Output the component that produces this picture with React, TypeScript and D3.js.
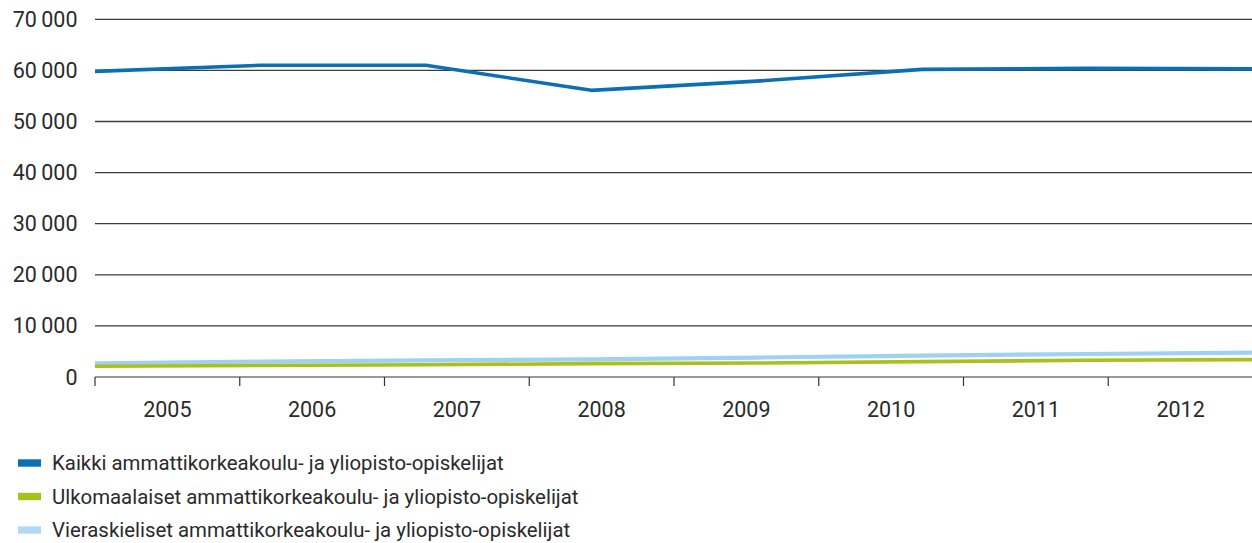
import React from "react";
import * as d3 from "d3";

const years = ["2005", "2006", "2007", "2008", "2009", "2010", "2011", "2012"];
const yTicks = [0, 10000, 20000, 30000, 40000, 50000, 60000, 70000];

const kaikki = [59800, 61000, 61000, 56100, 57900, 60200, 60400, 60300];
const ulkomaalaiset = [2090, 2250, 2400, 2620, 2740, 3010, 3270, 3400];
const vieraskieliset = [2680, 3000, 3250, 3450, 3800, 4200, 4500, 4780];

const seriesNames = [
  "Kaikki ammattikorkeakoulu- ja yliopisto-opiskelijat",
  "Ulkomaalaiset ammattikorkeakoulu- ja yliopisto-opiskelijat",
  "Vieraskieliset ammattikorkeakoulu- ja yliopisto-opiskelijat",
];

const W = 1252;
const H = 543;
const FONT = "Roboto, 'Noto Sans', sans-serif";

export default function App() {
  const x0 = 95;
  const x1 = 1253;
  const xBand = d3.scaleBand<string>().domain(years).range([x0, x1]).padding(0);
  const xPoint = d3.scalePoint<string>().domain(years).range([x0, x1]).padding(0);
  const y = d3.scaleLinear().domain([0, 70000]).range([377, 19.3]);

  const fmt = (v: number) => d3.format(",")(v).replace(/,/g, "\u2009");

  const line = d3
    .line<number>()
    .x((_, i) => xPoint(years[i]) as number)
    .y((d) => y(d));

  const series = [
    { name: seriesNames[2], data: vieraskieliset, color: "#9fd2f1", width: 4.2, swatch: "#b3daf5" },
    { name: seriesNames[1], data: ulkomaalaiset, color: "#a9c11e", width: 3.6, swatch: "#a9c11e" },
    { name: seriesNames[0], data: kaikki, color: "#0b6fb6", width: 3.6, swatch: "#0b6fb6" },
  ];
  const legendOrder = [series[2], series[1], series[0]];

  const tickXs = [x0, ...years.slice(1).map((yr) => xBand(yr) as number)];

  return (
    <svg
      width={W}
      height={H}
      style={{ position: "absolute", left: 0, top: 0, background: "#fff" }}
      fontFamily={FONT}
    >
      {yTicks.slice(1).map((t) => (
        <line key={t} x1={x0} x2={W} y1={y(t)} y2={y(t)} stroke="#3c3c3c" strokeWidth={1.3} />
      ))}
      {yTicks.map((t) => (
        <text
          key={"l" + t}
          x={77.5}
          y={y(t)}
          textAnchor="end"
          dominantBaseline="central"
          fontSize={21.5}
          fill="#2a2a2a"
        >
          {fmt(t)}
        </text>
      ))}
      <line x1={x0} x2={W} y1={y(0)} y2={y(0)} stroke="#777" strokeWidth={1.6} />
      {tickXs.map((tx, i) => (
        <line key={"t" + i} x1={tx} x2={tx} y1={y(0)} y2={y(0) + 9} stroke="#333" strokeWidth={1.2} />
      ))}
      {years.map((yr) => (
        <text
          key={"x" + yr}
          x={(xBand(yr) as number) + xBand.bandwidth() / 2}
          y={416.8}
          textAnchor="middle"
          fontSize={21.5}
          fill="#2a2a2a"
        >
          {yr}
        </text>
      ))}
      {series.map((s) => (
        <path
          key={s.name}
          d={line(s.data) as string}
          fill="none"
          stroke={s.color}
          strokeWidth={s.width}
          strokeLinejoin="round"
        />
      ))}
      {legendOrder.map((s, i) => {
        const cy = 463 + i * 33.5;
        return (
          <g key={"lg" + i}>
            <rect x={18} y={cy - 3.7} width={23} height={7.4} fill={s.swatch} />
            <text x={52} y={cy} dominantBaseline="central" fontSize={20.4} fill="#2a2a2a">
              {s.name}
            </text>
          </g>
        );
      })}
    </svg>
  );
}
